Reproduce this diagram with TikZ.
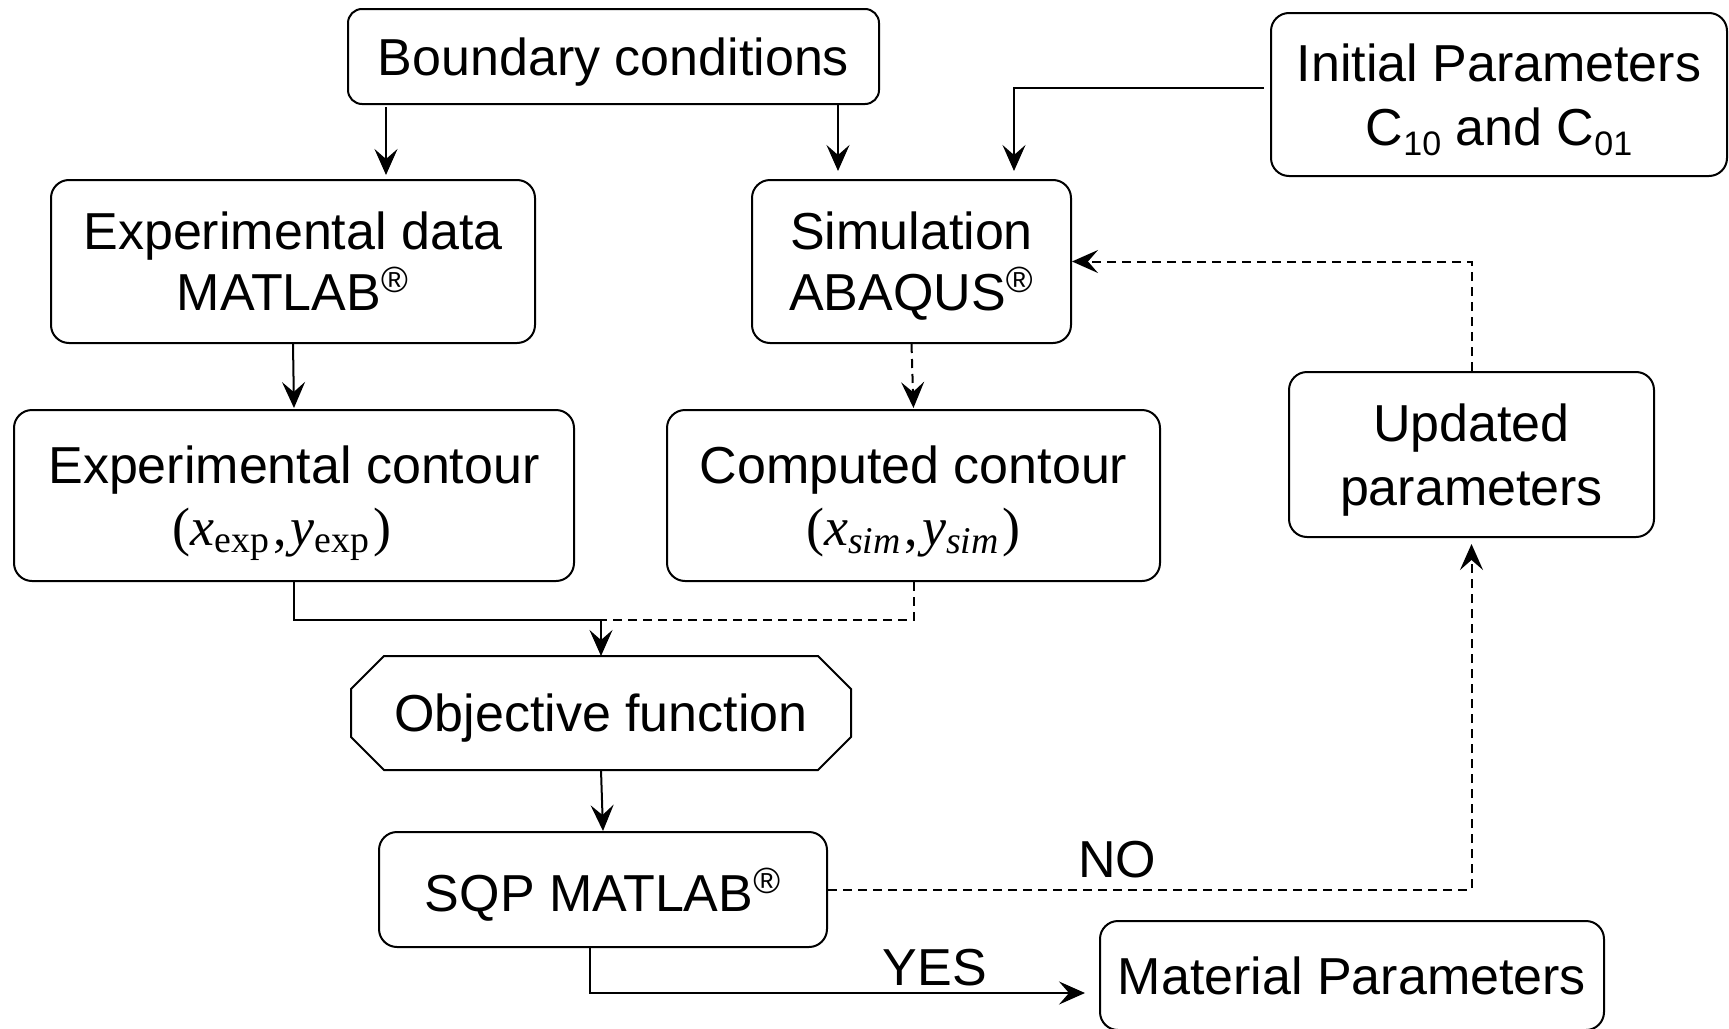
\documentclass[tikz,border=0pt]{standalone}
\usepackage{fontspec}
\setmainfont{Liberation Sans}
\newfontfamily\serif{Liberation Serif}
\usetikzlibrary{arrows.meta}
\tikzset{
  box/.style={draw, line width=1pt, rounded corners=9pt, align=center, inner sep=0pt,
    text depth=0pt, font=\fontsize{26}{31.5}\selectfont},
  arr/.style={line width=1pt, -{Stealth[length=13pt,width=11.5pt,inset=5pt]}},
  dsh/.style={dash pattern=on 4.5pt off 3pt},
  lbl/.style={font=\fontsize{26}{30.5}\selectfont, inner sep=0pt}
}
\newcommand{\reg}{\textsuperscript{\textregistered}}
\newcommand{\lowsub}[1]{\raisebox{-5pt}{\fontsize{17}{17}\selectfont #1}}
\begin{document}
\begin{tikzpicture}[x=0.5pt, y=-0.5pt]
\useasboundingbox (0,0) rectangle (1729,1028);
% nodes
\node[box, rounded corners=7pt, minimum width=265.5pt, minimum height=47.5pt] (bc) at (613.5,56.5) {Boundary conditions};
\node[box, minimum width=228pt, minimum height=81.5pt, font=\fontsize{26}{32}\selectfont] (init) at (1499,94.5) {Initial Parameters\\C\lowsub{10} and C\lowsub{01}};
\node[box, minimum width=242pt, minimum height=81.5pt, font=\fontsize{26}{30.5}\selectfont] (ed) at (293,261.5) {Experimental data\\MATLAB\reg};
\node[box, minimum width=159.5pt, minimum height=81.5pt, font=\fontsize{26}{30.5}\selectfont] (sim) at (911.5,261.5) {Simulation\\ABAQUS\reg};
\node[box, minimum width=280pt, minimum height=85.5pt, font=\fontsize{26}{31}\selectfont] (ec) at (294,495.5) {Experimental contour\\{\serif\fontsize{27}{30}\selectfont (\textit{x}\textsubscript{exp}\kern1.5pt,\kern2pt\textit{y}\textsubscript{exp}\kern1.5pt)\kern12pt}};
\node[box, minimum width=246.5pt, minimum height=85.5pt, font=\fontsize{26}{31}\selectfont] (cc) at (913.5,495.5) {Computed contour\\{\serif\fontsize{27}{30}\selectfont (\textit{x}\textsubscript{\textit{sim}}\kern1.5pt,\kern2pt\textit{y}\textsubscript{\textit{sim}}\kern1.5pt)}};
\node[box, minimum width=182.5pt, minimum height=82.5pt, font=\fontsize{26}{32}\selectfont] (upd) at (1471.5,454.5) {Updated\\parameters};
\node[box, draw=none, minimum width=249pt, minimum height=56pt] (obj) at (601,713) {Objective function};
\draw[line width=1pt] ([xshift=16.5pt]obj.north west) -- ([xshift=-16.5pt]obj.north east)
  -- ([yshift=-16.5pt]obj.north east) -- ([yshift=16.5pt]obj.south east)
  -- ([xshift=-16.5pt]obj.south east) -- ([xshift=16.5pt]obj.south west)
  -- ([yshift=16.5pt]obj.south west) -- ([yshift=-16.5pt]obj.north west) -- cycle;
\node[box, minimum width=224pt, minimum height=57.5pt] (sqp) at (603,889.5) {SQP MATLAB\reg};
\node[box, minimum width=252pt, minimum height=54.5pt] (mat) at (1352,975.5) {Material Parameters};
\node[lbl] (no) at (1117,860) {NO};
\node[lbl] (yes) at (935,968) {YES};
% helper coordinates
\coordinate (xa) at (386,107);
\coordinate (xb) at (838,0);
\coordinate (xc) at (1014,88);
\coordinate (jn) at (601,620);
\coordinate (xd) at (590,993);
% connectors
\draw[arr, shorten >=2pt] (xa) -- (xa |- ed.north);
\draw[arr, shorten >=4pt] (bc.south -| xb) -- (sim.north -| xb);
\draw[arr, shorten >=4pt, shorten <=3pt] (init.west |- xc) -| (sim.north -| xc);
\draw[arr, shorten >=0.5pt] (ed.south) -- (ec.north);
\draw[arr, dsh, shorten >=0.5pt] (sim.south) -- (cc.north);
\draw[line width=1pt] (ec.south) |- (jn);
\draw[line width=1pt, dsh] (cc.south) |- (jn);
\draw[arr] (jn) -- (obj.north);
\draw[arr] (obj.south) -- (sqp.north);
\draw[arr, dsh, shorten >=3pt] (sqp.east) -| (upd.south);
\draw[arr, dsh] (upd.north) |- (sim.east);
\draw[arr, shorten >=7pt] (sqp.south -| xd) |- (mat.west |- xd);
\end{tikzpicture}
\end{document}
